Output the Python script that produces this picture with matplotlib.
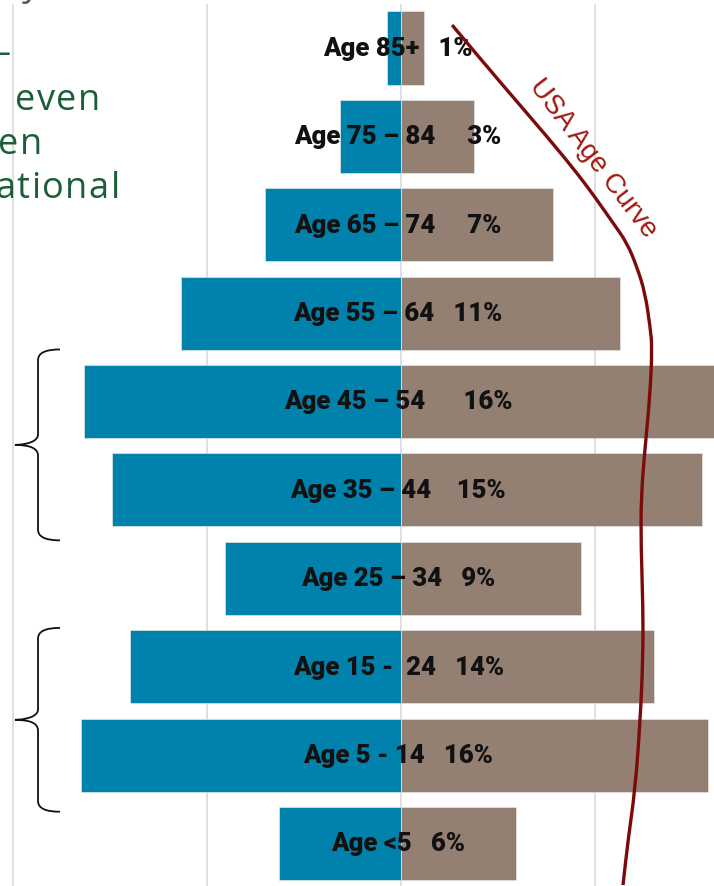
import numpy as np
import matplotlib
matplotlib.use('Agg')
from matplotlib import pyplot as plt
from matplotlib.path import Path
from matplotlib.patches import PathPatch

'''data'''
ages = ['Age 85+', 'Age 75 – 84', 'Age 65 – 74', 'Age 55 – 64', 'Age 45 – 54',
        'Age 35 – 44', 'Age 25 – 34', 'Age 15 -  24', 'Age 5 - 14', 'Age <5']
pct_labels = ['1%', '3%', '7%', '11%', '16%', '15%', '9%', '14%', '16%', '6%']
gaps = [3, 5, 5, 3, 6, 4, 3, 3, 3, 3]
left_pct = [0.72, 3.14, 7.01, 11.34, 16.34, 14.9, 9.07, 13.97, 16.49, 6.29]
right_pct = [1.19, 3.76, 7.84, 11.29, 16.3, 15.52, 9.28, 13.04, 15.82, 5.93]

# USA age curve, x in percent, y in row position (0 = Age 85+)
usa_x = [2.63, 5.10, 7.68, 9.23, 10.10, 10.93, 11.65, 12.16, 12.58, 12.84,
         12.94, 12.84, 12.58, 12.37, 12.37, 12.47, 12.47, 12.32, 12.06, 11.70,
         11.44]
usa_y = [-0.26, 0.385, 1.041, 1.459, 1.720, 1.980, 2.206, 2.478, 2.772, 3.157,
         3.383, 3.903, 4.514, 5.080, 5.645, 6.324, 6.890, 7.636, 8.394, 8.960,
         9.469]

grid_x = [-20, -10, 0, 10]
side_text = [('–', -8, 64), ('even', 15, 110), ('en', -2, 154), ('ational', -5, 198)]

blue = '#0082ad'
brown = '#938072'
maroon = '#7d0a0a'

'''plot prep'''
fig = plt.figure(figsize=(7.14, 8.86), dpi=100)
ax = fig.add_axes([0, 0, 1, 1])
ax.set_xlim(-20.67, 16.13)
ax.set_ylim(9.48, -0.543)
ax.axis('off')

rows = np.arange(len(ages))

for gx in grid_x:
    ax.plot([gx, gx], [9.6, -0.49], color='#d9d9d9', lw=1.2, zorder=0)

ax.barh(rows, [-v for v in left_pct], height=0.826, color=blue,
        edgecolor='#e4e4e4', linewidth=0.5, zorder=2)
ax.barh(rows, right_pct, height=0.826, color=brown,
        edgecolor='#e4e4e4', linewidth=0.5, zorder=2)

for i in rows:
    label = ages[i] + ' ' * gaps[i] + pct_labels[i]
    ax.text(-0.15, i + 0.01, label, ha='center', va='center', fontsize=18.5,
            fontweight='heavy', family='Roboto', color='#111111', zorder=4)

# smooth curve through the read points (quadratic segments between midpoints)
pts = list(zip(usa_x, usa_y))
verts = [pts[0], ((pts[0][0] + pts[1][0]) / 2, (pts[0][1] + pts[1][1]) / 2)]
codes = [Path.MOVETO, Path.LINETO]
for k in range(1, len(pts) - 1):
    mx = (pts[k][0] + pts[k + 1][0]) / 2
    my = (pts[k][1] + pts[k + 1][1]) / 2
    verts += [pts[k], (mx, my)]
    codes += [Path.CURVE3, Path.CURVE3]
verts.append(pts[-1])
codes.append(Path.LINETO)
ax.add_patch(PathPatch(Path(verts, codes), fill=False, edgecolor=maroon,
                       lw=2.4, zorder=5, capstyle='butt'))

ax.text(9.9, 1.25, 'USA Age Curve', rotation=-52.5, ha='center', va='center',
        fontsize=20, color='#a11a12', family='Liberation Sans',
        rotation_mode='anchor', zorder=5)


def brace(ax, top, bottom, x_tip, x_mid, x_end, r=0.12):
    mid = (top + bottom) / 2
    verts = [(x_end, top), (x_mid, top), (x_mid, top + r),
             (x_mid, mid - r),
             (x_mid, mid), (x_tip, mid), (x_tip, mid),
             (x_mid, mid), (x_mid, mid + r),
             (x_mid, bottom - r),
             (x_mid, bottom), (x_end, bottom)]
    codes = [Path.MOVETO, Path.CURVE3, Path.CURVE3,
             Path.LINETO,
             Path.CURVE4, Path.CURVE4, Path.CURVE4,
             Path.CURVE3, Path.CURVE3,
             Path.LINETO,
             Path.CURVE3, Path.CURVE3]
    ax.add_patch(PathPatch(Path(verts, codes), fill=False, lw=1.3,
                           edgecolor='#111111', zorder=3))


brace(ax, 3.41, 5.57, -19.9, -18.71, -17.58)
brace(ax, 6.56, 8.64, -19.9, -18.71, -17.58)

# letter-spaced text running in from the left side of the slide
renderer = fig.canvas.get_renderer()
for s, px, py in side_text:
    x = px
    for ch in s:
        t = fig.text(x / 714, 1 - py / 886, ch, ha='left', va='baseline',
                     fontsize=26, family='Open Sans', color='#1b5e37')
        x += t.get_window_extent(renderer).width + 1.5
fig.text(22 / 714, 1 + 5 / 886, 'y', ha='left', va='baseline', fontsize=26,
         family='Open Sans', color='#595959')

plt.savefig('out.png', dpi=100)
